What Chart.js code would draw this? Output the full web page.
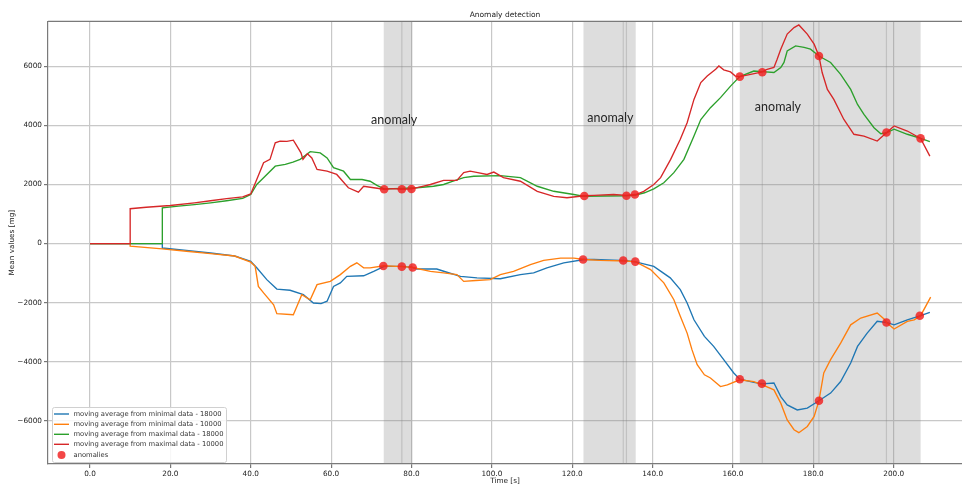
<!DOCTYPE html>
<html><head><meta charset="utf-8">
<script src="https://cdn.jsdelivr.net/npm/chart.js@4/dist/chart.umd.min.js"></script>
<style>html,body{margin:0;padding:0;background:#fff;}#c{display:block;}</style>
</head><body>
<canvas id="c" width="962" height="485"></canvas>
<script>
const chartTitle = 'Anomaly detection';
const xTitle = 'Time [s]';
const yTitle = 'Mean values [mg]';
const seriesLabels = [
  'moving average from minimal data - 18000',
  'moving average from minimal data - 10000',
  'moving average from maximal data - 18000',
  'moving average from maximal data - 10000',
  'anomalies'
];
const seriesColors = ['#1f77b4', '#ff7f0e', '#2ca02c', '#d62728', 'rgba(240,30,30,0.82)'];

const blueT = [0,18,18,24,30,36,40,41.5,44,46.5,49.8,53.1,55.6,57.5,59,60.6,62.3,63.9,68.1,70.6,73.2,77.6,80,81.4,86.3,88.8,92.2,96.3,102.1,107.1,110.4,113.7,117.9,123,125.4,130.3,133.5,135.8,140.3,144.4,146.9,148.6,150.3,152.9,155.2,157.7,160.2,161.7,165.2,167.3,170.2,171.9,173.5,176,178.5,181.4,184.3,186.8,189.3,191,193.4,195.9,198.2,200.1,203.4,206.7,209];
const blueV = [0,0,-150,-230,-320,-420,-600,-820,-1220,-1540,-1580,-1730,-2010,-2030,-1950,-1450,-1330,-1110,-1090,-940,-770,-770,-800,-860,-860,-970,-1110,-1160,-1190,-1050,-990,-820,-650,-540,-540,-560,-580,-620,-770,-1160,-1560,-2010,-2580,-3140,-3480,-3930,-4380,-4590,-4700,-4750,-4720,-5180,-5460,-5630,-5570,-5320,-5060,-4670,-4040,-3480,-3030,-2630,-2670,-2750,-2580,-2440,-2330];

const orangeT = [0,10,10,18,24,30,36,40,41.1,41.9,43.2,45.7,46.5,50.6,51.5,52.7,54.8,56.5,59.8,62.3,64.8,66.4,68.1,69.7,73.2,77.6,80,84.7,88,91.3,93,96,99.6,102.1,105.4,109.6,112.9,117.1,120.4,123,127,133.5,135.8,139.5,142.8,145.3,146.9,148.6,149.8,151.1,152.9,154.4,156.9,158.6,161.7,165.2,167.3,170.2,171.9,173.5,175.2,176.4,178.5,180.2,181.4,182.6,184.3,186.8,189.3,191.8,195.9,197.6,198.2,200.1,203.4,205.1,206.7,209.2];
const orangeV = [0,0,-90,-180,-260,-340,-420,-630,-770,-1450,-1670,-2070,-2370,-2410,-2120,-1730,-1900,-1390,-1280,-1050,-770,-650,-820,-820,-750,-780,-800,-940,-990,-1050,-1280,-1250,-1220,-1050,-940,-710,-570,-490,-490,-540,-570,-590,-620,-880,-1330,-1900,-2460,-3030,-3590,-4100,-4440,-4550,-4840,-4780,-4610,-4670,-4780,-4950,-5400,-5970,-6300,-6400,-6190,-5850,-5320,-4380,-3930,-3370,-2750,-2520,-2350,-2550,-2670,-2890,-2630,-2580,-2440,-1810];

const greenT = [0,18,18,22,26,30,34,38,40,41.5,43.2,46.1,48.6,50.5,52.3,54.8,57.3,59,60.6,63.1,64.8,67.7,69.7,71.4,73.2,77.6,80,81.4,85.5,88,90,93,95.5,102.1,107.1,111.3,115.4,120.4,123,128,133.5,135.8,138,140.3,142.8,145.3,147.8,150.3,152,154.4,156.9,159.4,161.7,165.2,167.3,170.2,171.9,172.7,173.5,175.6,177.7,179.3,181.4,184.3,186.8,189.3,191,192.6,195.1,196.8,198.2,200.1,203.4,206.7,209];
const greenV = [0,0,1210,1270,1320,1380,1450,1530,1660,2000,2230,2620,2680,2760,2850,3110,3070,2900,2570,2450,2170,2170,2110,1970,1850,1870,1880,1890,1940,2000,2100,2230,2280,2300,2230,1940,1770,1660,1600,1610,1620,1640,1720,1850,2060,2400,2850,3640,4200,4600,4940,5330,5650,5840,5820,5790,5960,6130,6520,6690,6640,6580,6350,6130,5730,5220,4710,4370,3920,3720,3750,3870,3700,3560,3450];

const redT = [0,10,10,14,20,26,30,34,38,40,41.5,43.2,44.8,46.1,47.3,49,50.6,51.5,52.5,53,54.1,55.2,56.5,59,61.4,64.3,66.8,68.1,70.6,73.2,75.5,77.6,80,82.5,84.7,88,91.3,93,94.6,96.5,98.8,100.5,102.9,107.1,111.3,115.4,118.7,123,125.4,130.3,133.5,135.8,137.8,140.3,142,144.5,146.9,148.6,150.3,152,153.6,155.7,156.5,157.7,159.4,160.6,161.7,164.4,167.3,168.5,170.2,171,171.9,173.5,175.2,176.4,178.5,180.2,181.4,182.2,183.5,185.1,187.6,190.1,192.6,195.9,198.2,200.1,203.4,206.7,209];
const redV = [0,0,1180,1230,1290,1380,1450,1520,1580,1680,2170,2740,2850,3410,3470,3460,3500,3300,3070,2850,3040,2900,2510,2450,2340,1890,1740,1940,1890,1840,1860,1840,1850,1930,2000,2140,2140,2400,2450,2400,2340,2420,2230,2110,1770,1600,1550,1620,1630,1660,1630,1660,1770,2000,2230,2850,3530,4090,4880,5450,5670,5900,6010,5880,5810,5670,5650,5730,5810,5900,5960,6240,6580,7090,7310,7400,7090,6750,6350,5790,5220,4880,4200,3700,3640,3470,3750,3980,3810,3560,2960];

const anomUpperT = [73.2,77.6,80.0,123.0,133.5,135.6,161.7,167.3,181.4,198.2,206.7];
const anomUpperV = [1840,1840,1850,1610,1620,1660,5650,5800,6350,3760,3560];
const anomLowerT = [73.0,77.6,80.3,122.7,132.7,135.7,161.7,167.2,181.4,198.2,206.5];
const anomLowerV = [-760,-780,-810,-540,-570,-610,-4590,-4740,-5320,-2670,-2440];

const spanStart = [73.1,122.8,161.7];
const spanEnd = [80.2,135.8,206.7];
const spanInner = [77.6,132.7,133.5,167.3,181.4,198.2];

const noteText = 'anomaly';
const noteT = [75.7,129.5,171.2];
const noteV = [4170,4237,4610];

const xTicks = [0,20,40,60,80,100,120,140,160,180,200];
const yTicks = [-6000,-4000,-2000,0,2000,4000,6000];
const xMin = -10.45, xMax = 217.0, yMin = -7460, yMax = 7520;

const pts = (t, v) => t.map((x, i) => ({x: x, y: v[i]}));

const spansPlugin = {
  id: 'spans',
  beforeDatasetsDraw(chart) {
    const {ctx, chartArea: a, scales: {x}} = chart;
    ctx.save();
    ctx.beginPath(); ctx.rect(a.left, a.top, a.right - a.left, a.bottom - a.top); ctx.clip();
    ctx.fillStyle = 'rgba(128,128,128,0.27)';
    spanStart.forEach((s, i) => {
      const x0 = x.getPixelForValue(s), x1 = x.getPixelForValue(spanEnd[i]);
      ctx.fillRect(x0, a.top, x1 - x0, a.bottom - a.top);
    });
    ctx.strokeStyle = 'rgba(128,128,128,0.3)';
    ctx.lineWidth = 1.2;
    spanInner.forEach(t => {
      const px = x.getPixelForValue(t);
      ctx.beginPath(); ctx.moveTo(px, a.top); ctx.lineTo(px, a.bottom); ctx.stroke();
    });
    ctx.restore();
  },
  afterDatasetsDraw(chart) {
    const {ctx, chartArea: a, scales: {x, y}} = chart;
    ctx.save();
    ctx.font = '12.5px Lato, "Liberation Sans", sans-serif';
    ctx.fillStyle = '#262626';
    ctx.textAlign = 'center';
    ctx.textBaseline = 'middle';
    noteT.forEach((t, i) => ctx.fillText(noteText, x.getPixelForValue(t), y.getPixelForValue(noteV[i])));
    ctx.strokeStyle = '#7a7a7a'; ctx.lineWidth = 1.2;
    ctx.beginPath(); ctx.moveTo(a.left, a.top); ctx.lineTo(a.right + 2, a.top); ctx.stroke();
    ctx.restore();
  },
  afterDraw(chart) {
    const ctx = chart.ctx;
    const bx = 52, by = 407, bw = 174, bh = 55;
    ctx.save();
    ctx.fillStyle = 'rgba(255,255,255,0.85)';
    ctx.strokeStyle = '#d0d0d0'; ctx.lineWidth = 1;
    ctx.beginPath();
    if (ctx.roundRect) ctx.roundRect(bx + 0.5, by + 0.5, bw, bh, 2); else ctx.rect(bx + 0.5, by + 0.5, bw, bh);
    ctx.fill(); ctx.stroke();
    let fs = 7;
    ctx.font = fs + 'px "DejaVu Sans", sans-serif';
    const w = ctx.measureText(seriesLabels[0]).width;
    fs = fs * 148 / w;
    ctx.font = fs.toFixed(2) + 'px "DejaVu Sans", sans-serif';
    ctx.textBaseline = 'middle';
    ctx.textAlign = 'left';
    const rows = [414, 424.3, 434.3, 444.3, 455];
    seriesLabels.forEach((lab, i) => {
      const ry = rows[i];
      if (i < 4) {
        ctx.strokeStyle = seriesColors[i]; ctx.lineWidth = 1.4;
        ctx.beginPath(); ctx.moveTo(54, ry); ctx.lineTo(69, ry); ctx.stroke();
      } else {
        ctx.fillStyle = seriesColors[4];
        ctx.beginPath(); ctx.arc(61.5, ry, 4, 0, Math.PI * 2); ctx.fill();
      }
      ctx.fillStyle = '#333';
      ctx.fillText(lab, 73.5, ry);
    });
    ctx.restore();
  }
};

const lineDs = (i, t, v, order) => ({
  label: seriesLabels[i], data: pts(t, v), borderColor: seriesColors[i], backgroundColor: seriesColors[i],
  borderWidth: 1.35, pointRadius: 0, tension: 0, fill: false, order: order
});

const tickFont = {family: '"DejaVu Sans", sans-serif', size: 7.3};

new Chart(document.getElementById('c'), {
  type: 'line',
  data: {
    datasets: [
      lineDs(0, blueT, blueV, 4),
      lineDs(1, orangeT, orangeV, 3),
      lineDs(2, greenT, greenV, 2),
      lineDs(3, redT, redV, 1),
      {
        type: 'scatter', label: seriesLabels[4],
        data: pts(anomUpperT, anomUpperV).concat(pts(anomLowerT, anomLowerV)),
        backgroundColor: seriesColors[4], borderColor: 'rgba(0,0,0,0)', borderWidth: 0,
        pointRadius: 4.3, showLine: false, order: 0
      }
    ]
  },
  options: {
    responsive: false, animation: false, devicePixelRatio: 1,
    layout: {autoPadding: false, padding: 0},
    plugins: {
      legend: {display: false},
      tooltip: {enabled: false},
      title: {display: true, fullSize: false, text: chartTitle, color: '#222', font: {family: '"DejaVu Sans", sans-serif', size: 7.5, weight: 'normal'}, padding: {top: 10.5, bottom: 1.9}}
    },
    scales: {
      x: {
        type: 'linear', min: xMin, max: xMax,
        afterFit: s => { s.height = 21; s.paddingLeft = 0; s.paddingRight = 0; },
        afterBuildTicks: s => { s.ticks = xTicks.map(v => ({value: v})); },
        ticks: {autoSkip: false, maxRotation: 0, padding: 2, color: '#222', font: tickFont, callback: v => v.toFixed(1)},
        grid: {color: '#c8c8c8', lineWidth: 1.2, tickColor: '#777', tickLength: 4, drawTicks: true},
        border: {color: '#7a7a7a', width: 1.2},
        title: {display: true, text: xTitle, color: '#222', font: tickFont, padding: {top: 0, bottom: 0}}
      },
      y: {
        type: 'linear', min: yMin, max: yMax,
        afterFit: s => { s.width = 48; s.paddingTop = 0; s.paddingBottom = 0; },
        afterBuildTicks: s => { s.ticks = yTicks.map(v => ({value: v})); },
        ticks: {padding: 2, color: '#222', font: tickFont, callback: v => (v < 0 ? '\u2212' + Math.abs(v) : String(v))},
        grid: {color: '#c8c8c8', lineWidth: 1.2, tickColor: '#777', tickLength: 4, drawTicks: true},
        border: {color: '#7a7a7a', width: 1.2},
        title: {display: true, text: yTitle, color: '#222', font: tickFont, padding: {top: 8, bottom: 0}}
      }
    }
  },
  plugins: [spansPlugin]
});
</script>
</body></html>
